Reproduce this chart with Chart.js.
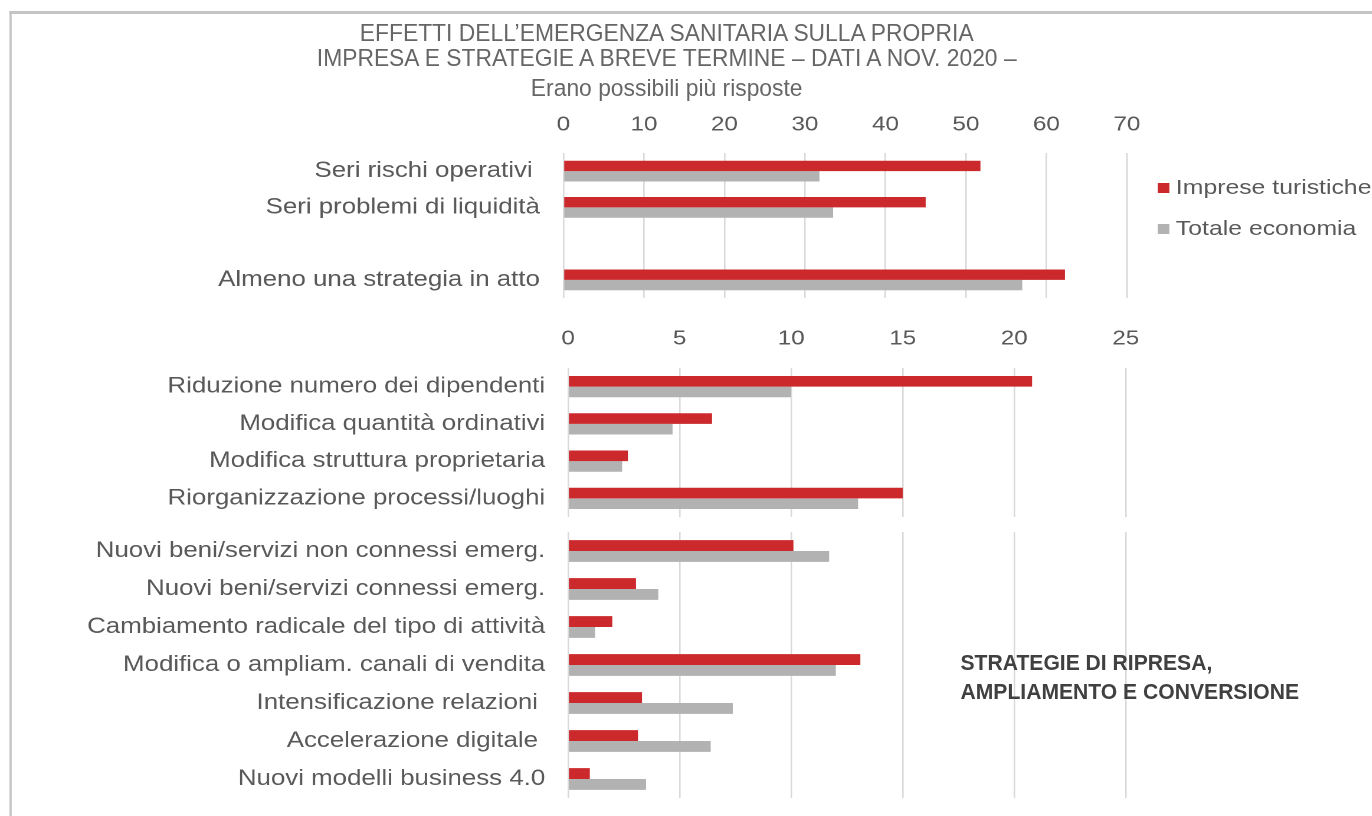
<!DOCTYPE html>
<html>
<head>
<meta charset="utf-8">
<script src="https://cdn.jsdelivr.net/npm/chart.js@4/dist/chart.umd.min.js"></script>
<style>
  html, body { margin: 0; padding: 0; background: #fff; }
  body { width: 1372px; height: 816px; overflow: hidden; position: relative; }
  /* the original picture is stretched sideways, so everything is drawn narrower and widened */
  #stage { position: absolute; left: 0; top: 0; width: 1163px; height: 816px; transform: scaleX(1.18); transform-origin: 0 0; }
  #stage canvas { position: absolute; left: 0; }
  .frame { position: absolute; left: 8px; top: 11px; width: 1300px; height: 900px; border-top: 3px solid #c4c4c4; border-left: 2.6px solid #c4c4c4; }
  .title { position: absolute; left: 0; width: 1130px; text-align: center; font-family: "Liberation Sans", Arial, sans-serif; font-size: 24.5px; line-height: 26px; color: #666; white-space: nowrap; transform: scaleX(0.79); }
  .legend { position: absolute; left: 981px; font-family: "Liberation Sans", Arial, sans-serif; font-size: 21px; line-height: 24px; color: #595959; white-space: nowrap; }
  .legend i { display: inline-block; width: 9.5px; height: 10px; margin-right: 6px; vertical-align: 1px; }
  .note { position: absolute; left: 814px; font-family: "Liberation Sans", Arial, sans-serif; font-weight: bold; font-size: 22.5px; line-height: 29px; color: #404040; white-space: nowrap; transform: scaleX(0.795); transform-origin: 0 0; }
</style>
</head>
<body>
<div id="stage">
  <div class="frame"></div>
  <div class="title" style="top:20px">EFFETTI DELL’EMERGENZA SANITARIA SULLA PROPRIA</div>
  <div class="title" style="top:45px">IMPRESA E STRATEGIE A BREVE TERMINE – DATI A NOV. 2020 –</div>
  <div class="title" style="top:75px">Erano possibili più risposte</div>
  <canvas id="chartTop" width="985" height="198" style="top:100px"></canvas>
  <canvas id="chartMid" width="984" height="207" style="top:310px"></canvas>
  <canvas id="chartLow" width="984" height="266" style="top:532px"></canvas>
  <div class="legend" style="top:175px"><i style="background:#cc292c"></i>Imprese turistiche</div>
  <div class="legend" style="top:216px"><i style="background:#b2b2b2"></i>Totale economia</div>
  <div class="note" style="top:648px">STRATEGIE DI RIPRESA,<br>AMPLIAMENTO E CONVERSIONE</div>
</div>
<script>
// effetti dell'emergenza (scala 0-70)
const topCategories = ['Seri rischi operativi ', 'Seri problemi di liquidità', '', 'Almeno una strategia in atto'];
const topTuristiche = [51.8, 45.0, null, 62.3];
const topTotale = [31.8, 33.5, null, 57.0];

// strategie di riorganizzazione (scala 0-25)
const midCategories = ['Riduzione numero dei dipendenti', 'Modifica quantità ordinativi', 'Modifica struttura proprietaria', 'Riorganizzazione processi/luoghi'];
const midTuristiche = [20.8, 6.45, 2.68, 15.0];
const midTotale = [10.0, 4.68, 2.42, 13.0];

// strategie di ripresa, ampliamento e conversione (scala 0-25)
const lowCategories = ['Nuovi beni/servizi non connessi emerg.', 'Nuovi beni/servizi connessi emerg.', 'Cambiamento radicale del tipo di attività', 'Modifica o ampliam. canali di vendita', 'Intensificazione relazioni ', 'Accelerazione digitale ', 'Nuovi modelli business 4.0'];
const lowTuristiche = [10.1, 3.04, 1.98, 13.1, 3.31, 3.13, 0.97];
const lowTotale = [11.7, 4.04, 1.21, 12.0, 7.38, 6.39, 3.49];

const topScale = { max: 70, step: 10 };
const lowScale = { max: 25, step: 5 };

const RED = '#cc292c';
const GREY = '#b2b2b2';
const GRID = '#d9d9d9';
const TEXT = '#595959';

function makeChart(id, labels, turistiche, totale, opt) {
    const ctx = document.getElementById(id);
    return new Chart(ctx, {
        type: 'bar',
        data: {
            labels: labels,
            datasets: [
                { label: 'Imprese turistiche', data: turistiche, backgroundColor: RED },
                { label: 'Totale economia', data: totale, backgroundColor: GREY }
            ]
        },
        options: {
            indexAxis: 'y',
            responsive: false,
            animation: false,
            devicePixelRatio: 2,
            layout: { padding: { left: 0, top: 0, bottom: 0, right: 30 } },
            plugins: { legend: { display: false }, tooltip: { enabled: false } },
            datasets: { bar: { categoryPercentage: 0.57, barPercentage: 1 } },
            scales: {
                x: {
                    position: 'top',
                    min: 0,
                    max: opt.max,
                    ticks: {
                        stepSize: opt.step,
                        display: opt.showTicks,
                        padding: opt.tickPad,
                        color: TEXT,
                        font: { family: 'Liberation Sans, Arial, sans-serif', size: 20.5 }
                    },
                    grid: { color: GRID, lineWidth: 1.3, drawTicks: false },
                    border: { display: false },
                    afterFit: (axis) => {
                        axis.height = opt.axisHeight;
                        axis.paddingLeft = 0;
                        axis.paddingRight = 0;
                    }
                },
                y: {
                    ticks: {
                        color: TEXT,
                        padding: opt.labelPad,
                        font: { family: 'Liberation Sans, Arial, sans-serif', size: 21.9 }
                    },
                    grid: { display: false, drawTicks: false },
                    border: { display: false },
                    afterFit: (axis) => {
                        axis.width = opt.left;
                        axis.paddingTop = 0;
                        axis.paddingBottom = 0;
                    }
                }
            }
        }
    });
}

makeChart('chartTop', topCategories, topTuristiche, topTotale,
    { max: topScale.max, step: topScale.step, showTicks: true, tickPad: 16, axisHeight: 53, left: 477.5, labelPad: 20 });
makeChart('chartMid', midCategories, midTuristiche, midTotale,
    { max: lowScale.max, step: lowScale.step, showTicks: true, tickPad: 17, axisHeight: 58, left: 481.5, labelPad: 19.5 });
makeChart('chartLow', lowCategories, lowTuristiche, lowTotale,
    { max: lowScale.max, step: lowScale.step, showTicks: false, tickPad: 0, axisHeight: 0, left: 481.5, labelPad: 19.5 });
</script>
</body>
</html>
